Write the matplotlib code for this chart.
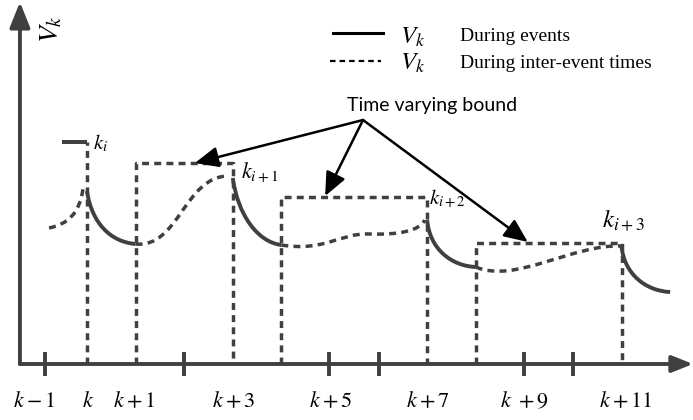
import matplotlib
matplotlib.use('Agg')
import matplotlib.pyplot as plt
from matplotlib.path import Path
from matplotlib.patches import PathPatch

plt.rcParams['mathtext.fontset'] = 'stix'
plt.rcParams['font.family'] = ['Liberation Serif', 'DejaVu Serif']

gray = '#404040'
lw = 2.5
dash = (0, (2.0, 1.5))

# time axis (x in steps of k, y in arbitrary units of V_k)
tick_pos = [-0.87, 2, 4.98, 6, 9, 10]
label_pos = [-1.08, 0.02, 0.97, 3.02, 5.02, 7.02, 9.01, 11.08]
label_txt = ['$k-1$', '$k$', '$k+1$', '$k+3$', '$k+5$', '$k+7$', '$k\\ +9$', '$k+11$']

# event instants and labels
event_k = [0, 3, 7, 11]
event_lbl = ['$k_i$', '$k_{i+1}$', '$k_{i+2}$', '$k_{i+3}$']
event_lbl_xy = [(0.12, 22.1), (3.17, 19.1), (7.03, 16.6), (10.6, 14.4)]
event_lbl_fs = [15, 16, 15, 18]
k0_level = 22.2

# time varying bound on each inter-event interval
bound_start = [1, 4, 8]
bound_end = [3, 7, 11]
bound_level = [20.1, 16.7, 12.1]

# V_k during events (bezier control points)
solid_curves = [
    [(0, 17.3), (0.1, 14.0), (0.5, 12.2), (1, 12.0)],
    [(3, 18.6), (3.1, 15.0), (3.5, 12.2), (4, 11.9)],
    [(7, 14.4), (7.05, 11.5), (7.5, 9.8), (8, 9.7)],
    [(11, 11.8), (11.05, 9.0), (11.5, 7.3), (12.0, 7.2)],
]
# V_k during inter-event times
dashed_curves = [
    [(-0.78, 13.6), (-0.4, 14.0), (-0.15, 15.0), (-0.08, 17.6)],
    [(1, 12.0), (1.9, 11.6), (2.0, 18.8), (2.92, 18.8)],
    [(4, 11.9), (4.9, 11.2), (5.2, 13.1), (5.8, 13.0), (6.4, 12.9), (6.85, 13.3), (6.95, 14.4)],
    [(8, 9.7), (8.8, 8.0), (10.0, 12.0), (11, 11.8)],
]

arrow_from = (5.68, 24.4)
arrow_to = [(2.22, 20.1), (4.90, 16.8), (9.07, 12.2)]


def bezier(ax, pts, **kw):
    codes = [Path.MOVETO] + [Path.CURVE4] * (len(pts) - 1)
    ax.add_patch(PathPatch(Path(pts, codes), fill=False, **kw))


fig = plt.figure(figsize=(6.93, 4.2), dpi=100)
ax = fig.add_axes([0, 0, 1, 1])
ax.set_xlim(-1.79, 12.47)
ax.set_ylim(-5.6, 36.4)
ax.axis('off')

# axes with arrows
ax.annotate('', xy=(12.47, 0), xytext=(-1.38, 0),
            arrowprops=dict(arrowstyle='-|>,head_length=0.45,head_width=0.18',
                            color=gray, lw=2.8, mutation_scale=28, shrinkA=0, shrinkB=0))
ax.annotate('', xy=(-1.38, 36.2), xytext=(-1.38, 0),
            arrowprops=dict(arrowstyle='-|>,head_length=0.55,head_width=0.22',
                            color=gray, lw=2.8, mutation_scale=28, shrinkA=0, shrinkB=0))
for t in tick_pos:
    ax.plot([t, t], [-1.2, 1.2], color=gray, lw=2.8, solid_capstyle='butt')
for p, s in zip(label_pos, label_txt):
    ax.text(p, -3.8, s, fontsize=16, ha='center', va='center')

# bound rectangles
for s, e, l in zip(bound_start, bound_end, bound_level):
    ax.plot([s, s, e, e], [0, l, l, 0], color=gray, lw=lw, ls=dash)
ax.plot([0, 0], [0, k0_level], color=gray, lw=lw, ls=dash)
ax.plot([-0.51, 0], [k0_level, k0_level], color=gray, lw=lw + 0.4, solid_capstyle='butt')

for c in solid_curves:
    bezier(ax, c, color=gray, lw=lw + 0.3)
for c in dashed_curves:
    bezier(ax, c, color=gray, lw=lw, ls=dash)

for (x, y), s, f in zip(event_lbl_xy, event_lbl, event_lbl_fs):
    ax.text(x, y, s, fontsize=f, ha='left', va='center')

# annotation arrows
for tgt in arrow_to:
    ax.annotate('', xy=tgt, xytext=arrow_from,
                arrowprops=dict(arrowstyle='-|>,head_length=0.8,head_width=0.35',
                                color='black', lw=1.8, mutation_scale=18, shrinkA=0, shrinkB=0))
ax.text(0.624, 0.75, 'Time varying bound', transform=ax.transAxes, fontsize=14,
        family='Lato', ha='center', va='center')

# legend
ax.plot([0.480, 0.553], [0.921, 0.921], transform=ax.transAxes, color='black', lw=2.2)
ax.plot([0.476, 0.550], [0.855, 0.855], transform=ax.transAxes, color='black', lw=1.6,
        ls=(0, (2.5, 1.8)))
ax.text(0.596, 0.912, '$V_k$', transform=ax.transAxes, fontsize=18, ha='center', va='center')
ax.text(0.596, 0.850, '$V_k$', transform=ax.transAxes, fontsize=18, ha='center', va='center')
ax.text(0.664, 0.912, 'During events', transform=ax.transAxes, fontsize=14, va='center')
ax.text(0.664, 0.850, 'During inter-event times', transform=ax.transAxes, fontsize=14, va='center')

# y label
ax.text(0.074, 0.93, '$V_k$', transform=ax.transAxes, fontsize=20, rotation=90,
        ha='center', va='center')

fig.savefig('out.png', dpi=100)
